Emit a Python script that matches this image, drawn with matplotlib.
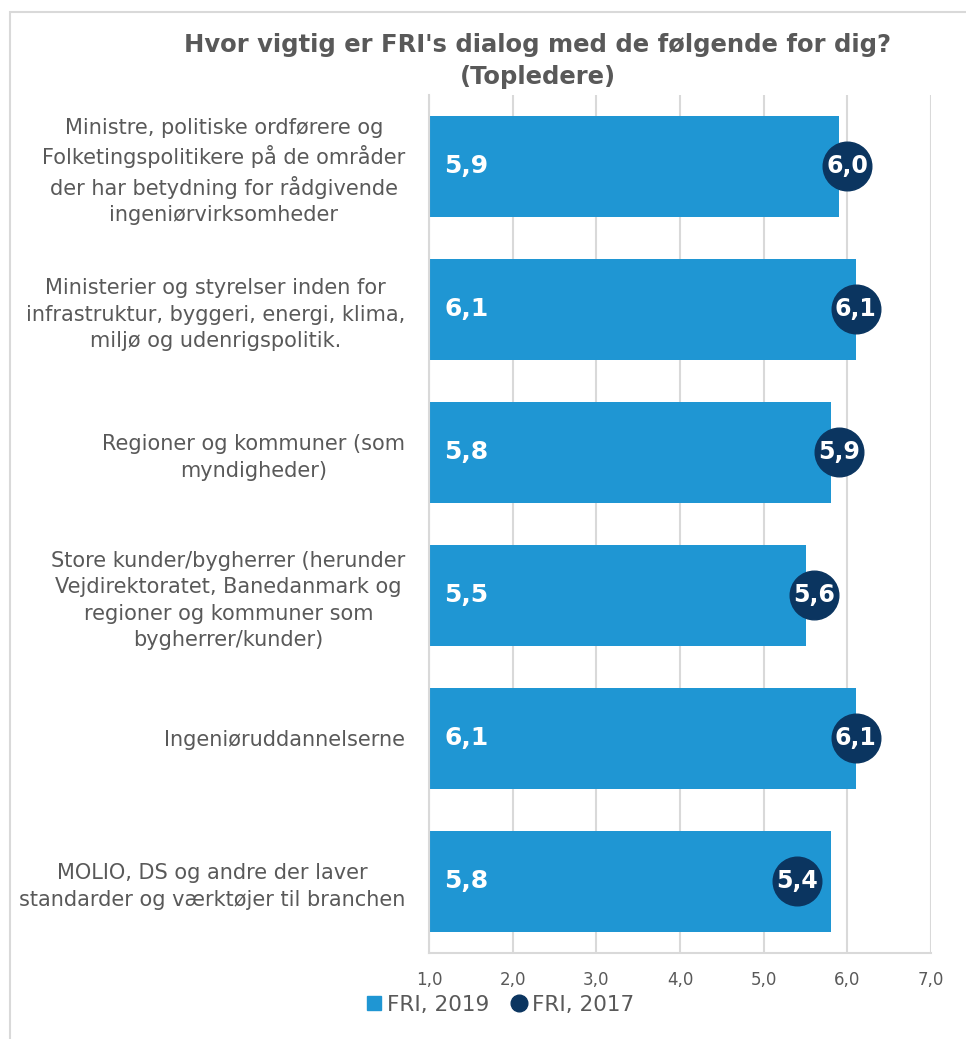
import matplotlib.pyplot as plt
from matplotlib.lines import Line2D

categories = [
    "Ministre, politiske ordførere og\nFolketingspolitikere på de områder\nder har betydning for rådgivende\ningeniørvirksomheder",
    "Ministerier og styrelser inden for\ninfrastruktur, byggeri, energi, klima,\nmiljø og udenrigspolitik.",
    "Regioner og kommuner (som\nmyndigheder)",
    "Store kunder/bygherrer (herunder\nVejdirektoratet, Banedanmark og\nregioner og kommuner som\nbygherrer/kunder)",
    "Ingeniøruddannelserne",
    "MOLIO, DS og andre der laver\nstandarder og værktøjer til branchen",
]
fri_2019 = [5.9, 6.1, 5.8, 5.5, 6.1, 5.8]
fri_2017 = [6.0, 6.1, 5.9, 5.6, 6.1, 5.4]
x_ticks = [1, 2, 3, 4, 5, 6, 7]

BAR_COLOR = "#1f96d3"
DOT_COLOR = "#0b3560"
TEXT_COLOR = "#595959"
GRID_COLOR = "#d9d9d9"

fig = plt.figure(figsize=(9.66, 10.39), dpi=100)
ax = fig.add_axes([0.4441, 0.0828, 0.5197, 0.8258])

# outer chart border
fig.patches.append(plt.Rectangle((10 / 966, -0.01), 1.0, 1 - 12 / 1039 + 0.01,
                                 transform=fig.transFigure, fill=False,
                                 edgecolor=GRID_COLOR, linewidth=1.5))

y = list(range(len(categories)))
base = x_ticks[0]
ax.barh(y, [v - base for v in fri_2019], left=base, height=0.7,
        color=BAR_COLOR, zorder=2)
ax.plot(fri_2017, y, "o", color=DOT_COLOR, markersize=35, zorder=3,
        linestyle="none")

for yi, v in zip(y, fri_2019):
    ax.text(1.18, yi, f"{v:.1f}".replace(".", ","), color="white",
            fontsize=18, fontweight="bold", va="center", ha="left", zorder=4)
for yi, v in zip(y, fri_2017):
    ax.text(v, yi, f"{v:.1f}".replace(".", ","), color="white",
            fontsize=17, fontweight="bold", va="center", ha="center", zorder=4)

ax.set_xlim(1, 7)
ax.set_ylim(len(categories) - 0.5, -0.5)
ax.set_xticks(x_ticks)
ax.set_xticklabels([f"{t:.1f}".replace(".", ",") for t in x_ticks],
                   color=TEXT_COLOR, fontsize=12)
ax.set_yticks(y)
ax.set_yticklabels(categories, color=TEXT_COLOR, fontsize=15,
                   multialignment="center", linespacing=1.4)
ax.tick_params(axis="x", length=0, pad=13)
ax.tick_params(axis="y", length=0, pad=17)
ax.grid(axis="x", color=GRID_COLOR, linewidth=1.5, zorder=0)
ax.set_axisbelow(True)
for side in ["top", "right"]:
    ax.spines[side].set_visible(False)
for side in ["left", "bottom"]:
    ax.spines[side].set_color(GRID_COLOR)
    ax.spines[side].set_linewidth(1.5)

fig.text(0.557, 0.9413, "Hvor vigtig er FRI's dialog med de følgende for dig?\n(Topledere)",
         ha="center", va="center", fontsize=17.5, fontweight="bold",
         color=TEXT_COLOR, linespacing=1.4)

handles = [
    Line2D([], [], marker="s", color=BAR_COLOR, linestyle="none", markersize=10),
    Line2D([], [], marker="o", color=DOT_COLOR, linestyle="none", markersize=12),
]
fig.legend(handles, ["FRI, 2019", "FRI, 2017"], loc="center left",
           bbox_to_anchor=(346 / 966, 1 - 1005 / 1039), ncol=2, frameon=False,
           fontsize=15.5, handlelength=0.8, handletextpad=0.2,
           columnspacing=1.0, labelcolor=TEXT_COLOR)

fig.savefig("out.png", dpi=100)
